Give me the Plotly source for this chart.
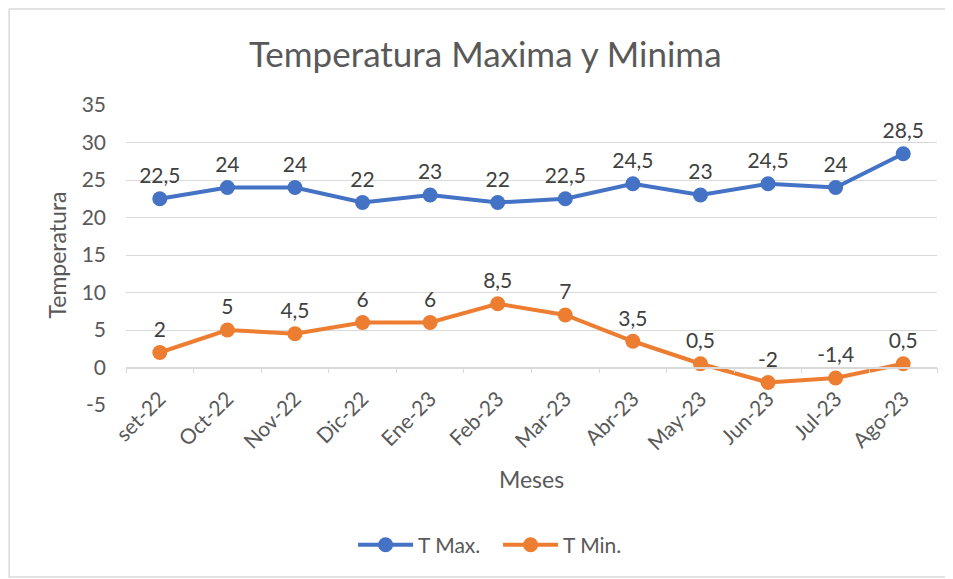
import plotly.graph_objects as go

meses = ['set-22', 'Oct-22', 'Nov-22', 'Dic-22', 'Ene-23', 'Feb-23',
         'Mar-23', 'Abr-23', 'May-23', 'Jun-23', 'Jul-23', 'Ago-23']
t_max = [22.5, 24, 24, 22, 23, 22, 22.5, 24.5, 23, 24.5, 24, 28.5]
t_min = [2, 5, 4.5, 6, 6, 8.5, 7, 3.5, 0.5, -2, -1.4, 0.5]
y_ticks = [-5, 0, 5, 10, 15, 20, 25, 30, 35]
y_labels = ['-5', '0', '5', '10', '15', '20', '25', '30', '35']

colors = [
    '#4472C4',  # blue
    '#ED7D31',  # orange
]


def label(v):
    # Spanish decimal comma
    return ('%g' % v).replace('.', ',')


fig = go.Figure()
fig.add_trace(go.Scatter(
    x=meses, y=t_max, name='T Max.',
    mode='lines+markers+text',
    text=[label(v) for v in t_max], textposition='top center',
    line=dict(color=colors[0], width=4),
    marker=dict(color=colors[0], size=15),
))
fig.add_trace(go.Scatter(
    x=meses, y=t_min, name='T Min.',
    mode='lines+markers+text',
    text=[label(v) for v in t_min], textposition='top center',
    line=dict(color=colors[1], width=4),
    marker=dict(color=colors[1], size=15),
))

fig.update_traces(textfont=dict(size=21, color='#404040'))

# page body adds ~8px offset, so the figure is a bit smaller
fig.update_layout(
    width=945, height=571,
    margin=dict(l=118, r=16, t=97, b=174),
    paper_bgcolor='white', plot_bgcolor='white',
    font=dict(family='Lato, Open Sans, sans-serif', color='#595959'),
    title=dict(text='Temperatura Maxima y Minima', x=0.505, xanchor='center',
               y=0.918, yanchor='middle', font=dict(size=35, color='#595959')),
    legend=dict(orientation='h', x=0.28, xanchor='left', y=-0.467, yanchor='middle',
                itemwidth=55, entrywidth=75, entrywidthmode='pixels',
                font=dict(size=21, color='#595959')),
    shapes=[dict(type='rect', xref='paper', yref='paper',
                 x0=-0.144, x1=1.03, y0=-0.573, y1=1.32,
                 line=dict(color='#D9D9D9', width=1.5))],
)

fig.update_yaxes(
    range=[-5, 35], tickvals=y_ticks, ticktext=y_labels,
    showgrid=True, gridcolor='#D9D9D9', gridwidth=1.2,
    zeroline=False, showline=False, tickfont=dict(size=21), automargin=False,
    ticklabelstandoff=19,
    title=dict(text='Temperatura', font=dict(size=23), standoff=8),
)
fig.update_xaxes(
    range=[-0.5, 11.5], anchor='free', position=0.125, automargin=False,
    showline=True, linecolor='#D9D9D9', linewidth=1.5,
    ticks='outside', tickson='boundaries', ticklen=5, tickcolor='#D9D9D9',
    tickangle=-45, tickfont=dict(size=21), showgrid=False, ticklabelstandoff=10,
    title=dict(text='Meses', font=dict(size=23), standoff=18),
)

fig.write_html("out.html")
